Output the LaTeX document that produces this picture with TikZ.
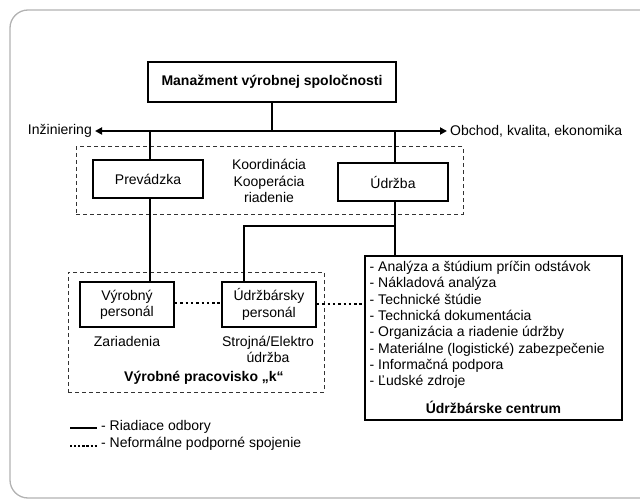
\documentclass[tikz,border=0pt]{standalone}
\usepackage{fontspec}
\setmainfont{Liberation Sans}
\usetikzlibrary{arrows.meta}
\begin{document}
\begin{tikzpicture}[x=1pt,y=-1pt,
  every node/.style={font=\fontsize{14}{16.3}\selectfont, inner sep=0pt},
  bfnode/.style={font=\bfseries\fontsize{14}{16.3}\selectfont},
  box/.style={draw, line width=2pt, fill=white},
  grpbox/.style={draw=black!80, line width=1pt, dash pattern=on 4pt off 3pt},
  conn/.style={line width=2pt},
  dotline/.style={line width=2.2pt, dash pattern=on 2.4pt off 2.9pt},
  framec/.style={draw=black!30, line width=1.3pt, rounded corners=18pt}]
\useasboundingbox (0,0) rectangle (640,500);
\draw[framec] (10,10) rectangle (700,498);

% groups
\node[grpbox, minimum width=387, minimum height=67] (grp1) at (269.5,180.5) {};
\node[grpbox, minimum width=256, minimum height=120] (grp2) at (196,332) {};

% boxes
\node[box, bfnode, minimum width=248, minimum height=40] (man) at (272,82) {Manažment výrobnej spoločnosti};
\node[box, minimum width=110, minimum height=38] (prev) at (148,179) {Prevádzka};
\node[box, minimum width=110, minimum height=38] (udr) at (393,182) {Údržba};
\node[box, minimum width=94, minimum height=45, align=center] (vyr) at (127,304.5) {Výrobný\\personál};
\node[box, minimum width=94, minimum height=45, align=center] (udp) at (269,304.5) {Údržbársky\\personál};
\node[box, minimum width=257, minimum height=164] (cen) at (493.5,338) {};

% texts
\node[align=center] (koord) at (269,181) {Koordinácia\\Kooperácia\\riadenie};
\node (zar) at (127,341) {Zariadenia};
\node[align=center] (stroj) at (268,349.5) {Strojná/Elektro\\údržba};
\node[bfnode] (vpk) at (204,378) {Výrobné pracovisko „k“};
\node[align=left, anchor=north west] (list) at (369.5,261) {- Analýza a štúdium príčin odstávok\\- Nákladová analýza\\- Technické štúdie\\- Technická dokumentácia\\- Organizácia a riadenie údržby\\- Materiálne (logistické) zabezpečenie\\- Informačná podpora\\- Ľudské zdroje};
\node[bfnode] (cent) at (493.5,407) {Údržbárske centrum};

% side labels and arrow
\node[anchor=east, inner sep=3pt] (inz) at (95,131) {Inžiniering};
\node[anchor=west, inner sep=3pt] (obc) at (447,131) {Obchod, kvalita, ekonomika};
\draw[conn, {Triangle[length=7pt,width=7pt]}-{Triangle[length=7pt,width=7pt]}] (inz.east) -- (obc.west);

% connectors
\coordinate (bl) at (244,226);
\coordinate (br) at (395,226);
\draw[conn] (man.south) -- (man.south |- inz.east);
\draw[conn] (150,131) -- (prev.north -| 150,0);
\draw[conn] (395,131) -- (udr.north -| 395,0);
\draw[conn] (prev.south -| 150,0) -- (vyr.north -| 150,0);
\draw[conn] (udr.south -| 395,0) -- (cen.north -| 395,0);
\draw[conn] (br) -- (bl) -- (bl |- udp.north);
\draw[dotline] (vyr.east |- 0,303) -- (udp.west |- 0,303);
\draw[dotline] (udp.east |- 0,304) -- (cen.west |- 0,304);

% legend
\coordinate (l1a) at (70,428);
\coordinate (l1b) at (97,428);
\coordinate (l2a) at (70,446);
\coordinate (l2b) at (97,446);
\draw[conn] (l1a) -- (l1b);
\draw[line width=2.2pt, dash pattern=on 2.2pt off 1.9pt] (l2a) -- (l2b);
\node[anchor=west] (lg1) at (101,427) {- Riadiace odbory};
\node[anchor=west] (lg2) at (101,444) {- Neformálne podporné spojenie};
\end{tikzpicture}
\end{document}
